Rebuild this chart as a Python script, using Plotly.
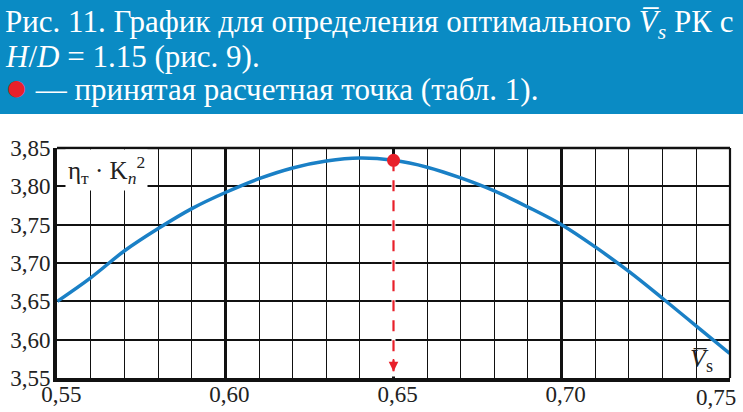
import plotly.graph_objects as go

# Data
vs = [0.55, 0.56, 0.57, 0.58, 0.59, 0.60, 0.61, 0.62, 0.63, 0.64, 0.65,
      0.66, 0.67, 0.68, 0.69, 0.70, 0.71, 0.72, 0.73, 0.74, 0.75]
eta_k2 = [3.650, 3.681, 3.716, 3.745, 3.771, 3.792, 3.810, 3.824, 3.833, 3.837, 3.834,
          3.825, 3.811, 3.794, 3.773, 3.750, 3.721, 3.689, 3.654, 3.618, 3.582]
point_x = [0.65]
point_y = [3.834]
x_ticks = [0.55, 0.60, 0.65, 0.70, 0.75]
x_ticklabels = ["0,55", "0,60", "0,65", "0,70", "0,75"]
y_ticks = [3.55, 3.60, 3.65, 3.70, 3.75, 3.80, 3.85]
y_ticklabels = ["3,55", "3,60", "3,65", "3,70", "3,75", "3,80", "3,85"]

BLUE_BAND = "#0A8BC4"
CURVE = "#1A80C6"
RED = "#E8202A"
SERIF = "Liberation Serif, DejaVu Serif, serif"

fig = go.Figure()

# white strip hiding the grid line behind the dashed drop line
fig.add_trace(go.Scatter(x=[point_x[0], point_x[0]], y=[point_y[0], 3.552],
                         mode="lines", line=dict(color="white", width=4),
                         hoverinfo="skip", showlegend=False))
# dashed drop line from the chosen point
fig.add_trace(go.Scatter(x=[point_x[0], point_x[0]], y=[point_y[0], 3.5585],
                         mode="lines", line=dict(color=RED, width=2.2, dash="11px,9px"),
                         hoverinfo="skip", showlegend=False))
fig.add_trace(go.Scatter(x=vs, y=eta_k2, mode="lines",
                         line=dict(color=CURVE, width=3.5, shape="spline", smoothing=1.0),
                         showlegend=False))
fig.add_trace(go.Scatter(x=point_x, y=point_y, mode="markers",
                         marker=dict(color=RED, size=13), showlegend=False))

# last x label is drawn separately (shifted left to stay inside the picture)
axis_ticktext = x_ticklabels[:-1] + [""]

fig.update_layout(
    width=743, height=412,
    margin=dict(l=57, r=13, t=148, b=34),
    paper_bgcolor="white", plot_bgcolor="white",
    showlegend=False,
    xaxis=dict(range=[0.5499, 0.7501], tickvals=x_ticks, ticktext=axis_ticktext,
               automargin=False,
               showgrid=True, gridcolor="#111", gridwidth=2.5,
               minor=dict(dtick=0.01, tick0=0.55, showgrid=True, gridcolor="#111", gridwidth=1.3),
               showline=True, linecolor="#111", linewidth=4, ticks="", zeroline=False,
               ticklabelstandoff=-8, ticklabelshift=4,
               tickfont=dict(family=SERIF, size=23, color="#222")),
    yaxis=dict(range=[3.5499, 3.8501], tickvals=y_ticks, ticktext=y_ticklabels,
               automargin=False,
               showgrid=True, gridcolor="#111", gridwidth=2.2,
               showline=True, linecolor="#111", linewidth=4, ticks="", zeroline=False,
               ticklabelstandoff=-2,
               tickfont=dict(family=SERIF, size=23, color="#222")),
)

fig.add_annotation(xref="paper", yref="paper", x=(738 - 57) / 673, y=-19 / 230,
                   xanchor="right", yanchor="middle", text=x_ticklabels[-1], showarrow=False,
                   font=dict(family=SERIF, size=23, color="#222"))

# top and right borders
fig.add_shape(type="line", xref="paper", yref="paper", x0=0, x1=1, y0=1, y1=1,
              line=dict(color="#111", width=2.5))
fig.add_shape(type="line", xref="paper", yref="paper", x0=1, x1=1, y0=0, y1=1,
              line=dict(color="#111", width=2.2))

# blue caption band
fig.add_shape(type="rect", xref="paper", yref="paper",
              x0=-0.09, x1=1.03, y0=(378 - 114) / 230, y1=1.7,
              fillcolor=BLUE_BAND, line=dict(width=0), layer="below")

title_lines = [
    ("Рис. 11. График для определения оптимального <i>V\u0305<sub>s</sub></i> РК с", 24),
    ("<i>H</i>/<i>D</i> = 1.15 (рис. 9).", 56),
    ("<span style='color:" + RED + ";font-size:38px'>●</span> — принятая расчетная точка (табл. 1).", 87),
]
for txt, py in title_lines:
    fig.add_annotation(xref="paper", yref="paper", x=-54 / 673, y=(378 - py) / 230,
                       xanchor="left", yanchor="middle", text=txt, showarrow=False,
                       font=dict(family=SERIF, size=31, color="white"))

# axis labels
fig.add_annotation(xref="paper", yref="paper", x=0.012, y=0.995, xanchor="left", yanchor="top",
                   text="η<sub>т</sub> · K<sub><i>n</i></sub><sup>2</sup>", showarrow=False,
                   bgcolor="white", borderpad=2,
                   font=dict(family=SERIF, size=25, color="#222"))
fig.add_annotation(x=0.7417, y=3.5734, xanchor="center", yanchor="middle",
                   text="<i>V\u0305</i><sub>s</sub>", showarrow=False,
                   font=dict(family=SERIF, size=26, color="#222"))

# arrow head at the bottom of the dashed line
fig.add_annotation(x=point_x[0], y=3.5585, ax=0, ay=-14, text="", showarrow=True,
                   arrowhead=2, arrowsize=1.2, arrowwidth=1.6, arrowcolor=RED)

fig.write_html("out.html", config={"displayModeBar": False},
               post_script="document.body.style.margin='0';document.body.style.overflow='hidden';")
